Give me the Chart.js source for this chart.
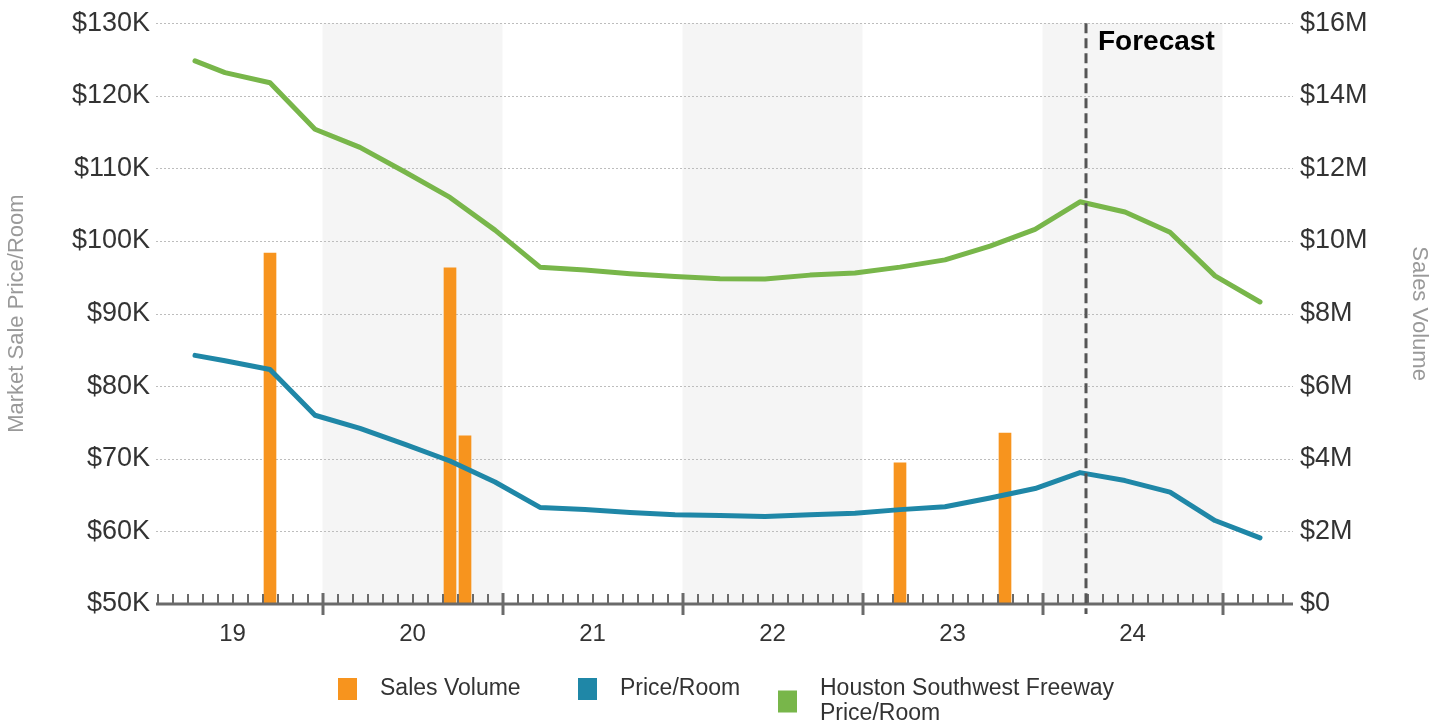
<!DOCTYPE html>
<html><head><meta charset="utf-8">
<script src="https://cdn.jsdelivr.net/npm/chart.js@4.4.1/dist/chart.umd.min.js"></script>
<style>html,body{margin:0;padding:0;background:#fff;}#wrap{width:1444px;height:728px;position:relative;}canvas{display:block;}</style>
</head><body><div id="wrap"><canvas id="c" width="1444" height="728"></canvas></div>
<script>
// x positions are months since Jan 2019 (0 = start of 2019)
const yearLabels = ['19', '20', '21', '22', '23', '24'];
const lineMonths = [3.5, 5.5, 8.5, 11.5, 14.5, 17.5, 20.5, 23.5, 26.5, 29.5, 32.5, 35.5, 38.5, 41.5, 44.5, 47.5, 50.5, 53.5, 56.5, 59.5, 62.5, 65.5, 68.5, 71.5, 74.5];
const priceRoom = [84250, 83500, 82300, 76000, 74200, 72000, 69700, 66800, 63300, 63000, 62600, 62300, 62200, 62050, 62300, 62500, 63000, 63400, 64600, 65900, 68100, 67000, 65400, 61500, 59100];
const submarketPrice = [124800, 123200, 121800, 115400, 112900, 109500, 106000, 101500, 96400, 96000, 95500, 95100, 94800, 94750, 95300, 95600, 96400, 97400, 99300, 101600, 105400, 104000, 101200, 95200, 91600];
const salesMonths = [8.5, 20.5, 21.5, 50.5, 57.5];
const salesVolume = [9670000, 9260000, 4630000, 3890000, 4710000];
const seriesNames = ['Sales Volume', 'Price/Room', 'Houston Southwest Freeway Price/Room'];
const forecastMonth = 62.9;
const forecastLabel = 'Forecast';
const leftTitle = 'Market Sale Price/Room';
const rightTitle = 'Sales Volume';

const COLORS = ['#F7941E', '#1F87A7', '#78B64A'];
const FONT = '"Liberation Sans", Arial, sans-serif';
Chart.defaults.font.family = FONT;

const decor = {
  id: 'decor',
  beforeDraw(chart) {
    const ctx = chart.ctx, a = chart.chartArea, xs = chart.scales.x, yl = chart.scales.y;
    ctx.save();
    ctx.fillStyle = '#F5F5F5';
    yearLabels.forEach((lab, i) => {
      if (i % 2 === 1) {
        const x0 = Math.max(xs.getPixelForValue(i * 12), a.left);
        const x1 = Math.min(xs.getPixelForValue((i + 1) * 12), a.right);
        ctx.fillRect(x0, a.top, x1 - x0, a.bottom - a.top);
      }
    });
    ctx.strokeStyle = '#BDBDBD';
    ctx.lineWidth = 1;
    ctx.setLineDash([2, 2]);
    yl.ticks.forEach(t => {
      const y = Math.round(yl.getPixelForValue(t.value)) + 0.5;
      ctx.beginPath(); ctx.moveTo(a.left, y); ctx.lineTo(a.right, y); ctx.stroke();
    });
    ctx.restore();
  },
  afterDatasetsDraw(chart) {
    const ctx = chart.ctx, a = chart.chartArea, xs = chart.scales.x;
    ctx.save();
    ctx.strokeStyle = '#6A6A6A';
    ctx.lineWidth = 3;
    ctx.beginPath(); ctx.moveTo(a.left, a.bottom); ctx.lineTo(a.right, a.bottom); ctx.stroke();
    for (let m = Math.ceil(xs.min); m <= Math.floor(xs.max); m++) {
      const x = Math.round(xs.getPixelForValue(m));
      if (m % 12 === 0) {
        ctx.lineWidth = 3;
        ctx.beginPath(); ctx.moveTo(x, a.bottom - 11); ctx.lineTo(x, a.bottom + 11); ctx.stroke();
      } else {
        ctx.lineWidth = 2;
        ctx.beginPath(); ctx.moveTo(x, a.bottom - 10); ctx.lineTo(x, a.bottom); ctx.stroke();
      }
    }
    const fx = Math.round(xs.getPixelForValue(forecastMonth));
    ctx.strokeStyle = '#555555';
    ctx.lineWidth = 3;
    ctx.setLineDash([10, 5]);
    ctx.beginPath(); ctx.moveTo(fx, a.top); ctx.lineTo(fx, a.bottom + 10); ctx.stroke();
    ctx.setLineDash([]);
    ctx.fillStyle = '#000';
    ctx.font = 'bold 28px ' + FONT;
    ctx.textAlign = 'left';
    ctx.textBaseline = 'alphabetic';
    ctx.fillText(forecastLabel, fx + 12, a.top + 27);
    ctx.fillStyle = '#333';
    ctx.font = '24px ' + FONT;
    ctx.textAlign = 'center';
    ctx.textBaseline = 'middle';
    yearLabels.forEach((lab, i) => {
      ctx.fillText(lab, xs.getPixelForValue(i * 12 + 6), a.bottom + 30);
    });
    ctx.font = '23px ' + FONT;
    ctx.textAlign = 'left';
    const items = [
      { sx: 338, lines: [seriesNames[0]] },
      { sx: 578, lines: [seriesNames[1]] },
      { sx: 778, lines: ['Houston Southwest Freeway', 'Price/Room'] }
    ];
    const baseY = 689;
    items.forEach((it, i) => {
      const n = it.lines.length;
      const cy = baseY + (n - 1) * 12.5;
      ctx.fillStyle = COLORS[i];
      ctx.fillRect(it.sx, cy - 11, 19, 22);
      ctx.fillStyle = '#333';
      it.lines.forEach((ln, j) => ctx.fillText(ln, it.sx + 42, baseY + j * 25));
    });
    ctx.restore();
  }
};

new Chart(document.getElementById('c'), {
  data: {
    datasets: [
      { type: 'bar', label: seriesNames[0], yAxisID: 'y2', order: 3,
        data: salesMonths.map((m, i) => ({ x: m, y: salesVolume[i] })),
        backgroundColor: COLORS[0], barThickness: 12 },
      { type: 'line', label: seriesNames[1], yAxisID: 'y', order: 2,
        data: lineMonths.map((m, i) => ({ x: m, y: priceRoom[i] })),
        borderColor: COLORS[1], borderWidth: 5, pointRadius: 0, tension: 0,
        borderCapStyle: 'round', borderJoinStyle: 'round' },
      { type: 'line', label: seriesNames[2], yAxisID: 'y', order: 1,
        data: lineMonths.map((m, i) => ({ x: m, y: submarketPrice[i] })),
        borderColor: COLORS[2], borderWidth: 5, pointRadius: 0, tension: 0,
        borderCapStyle: 'round', borderJoinStyle: 'round' }
    ]
  },
  options: {
    responsive: false,
    animation: false,
    layout: { padding: { top: 20, left: 0, right: 0, bottom: 0 } },
    plugins: { legend: { display: false }, tooltip: { enabled: false } },
    scales: {
      x: { type: 'linear', min: 0.9, max: 76.7, offset: false,
        ticks: { display: false }, grid: { display: false, drawTicks: false }, border: { display: false },
        afterFit(s) { s.height = 124; } },
      y: { position: 'left', min: 50000, max: 130000,
        ticks: { stepSize: 10000, color: '#333', padding: 6, font: { size: 27 },
          callback: v => '$' + (v / 1000) + 'K' },
        grid: { display: false, drawTicks: false }, border: { display: false },
        title: { display: true, text: leftTitle, color: '#999', font: { size: 22 }, padding: { top: 4, bottom: 0 } },
        afterFit(s) { s.width = 156; } },
      y2: { position: 'right', min: 0, max: 16000000,
        ticks: { stepSize: 2000000, color: '#333', padding: 7, font: { size: 27 },
          callback: v => v === 0 ? '$0' : '$' + (v / 1000000) + 'M' },
        grid: { display: false, drawTicks: false }, border: { display: false },
        title: { display: true, text: rightTitle, color: '#999', font: { size: 22 }, padding: { top: 12, bottom: 0 } },
        afterFit(s) { s.width = 151; } }
    }
  },
  plugins: [decor]
});
</script>
</body></html>
